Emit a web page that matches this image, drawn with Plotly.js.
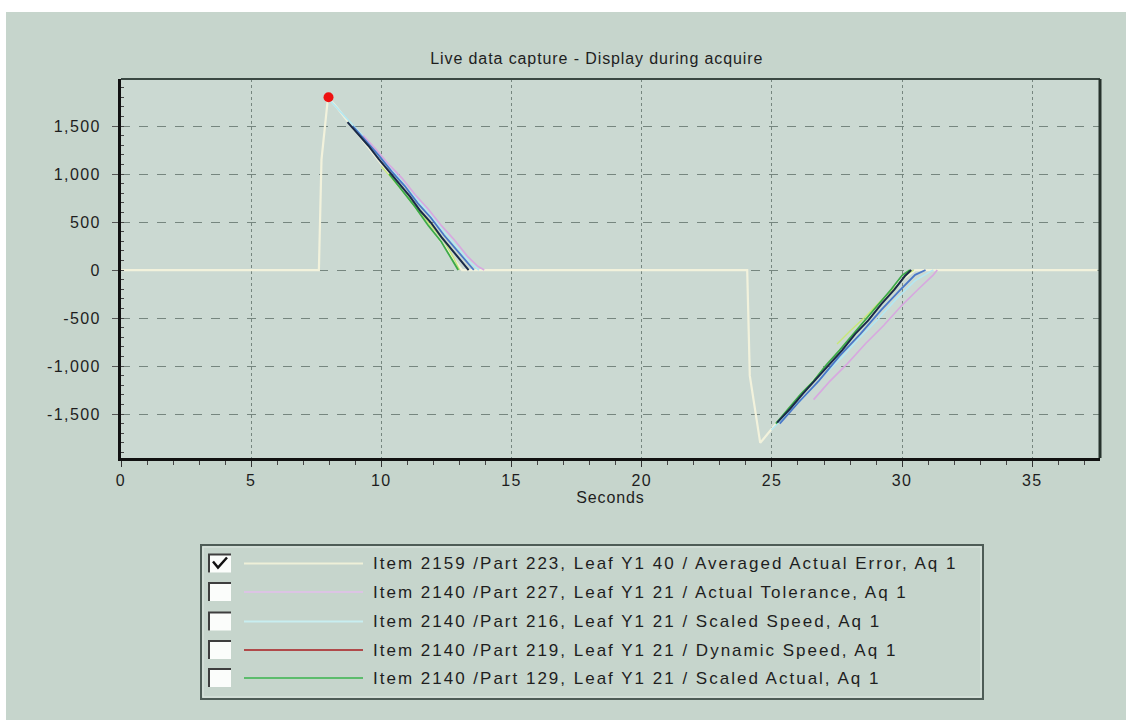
<!DOCTYPE html>
<html>
<head>
<meta charset="utf-8">
<script src="https://cdn.plot.ly/plotly-3.0.1.min.js"></script>
<style>
html,body{margin:0;padding:0;background:#ffffff;width:1126px;height:720px;overflow:hidden;}
#chart{position:absolute;left:6px;top:12px;width:1120px;height:708px;}
text.annotation-text{letter-spacing:2px;}
#chart g.ytick text, #chart g.xtick text{letter-spacing:1.4px;}
#chart .gtitle, #chart .xtitle{letter-spacing:0.9px;}
</style>
</head>
<body>
<div id="chart"></div>
<script>
// ---------------- data ----------------
const chartTitle = "Live data capture - Display during acquire";
const xAxisTitle = "Seconds";
const xTickVals = [0, 5, 10, 15, 20, 25, 30, 35];
const xTickText = ["0", "5", "10", "15", "20", "25", "30", "35"];
const yTickVals = [-1500, -1000, -500, 0, 500, 1000, 1500];
const yTickText = ["-1,500", "-1,000", "-500", "0", "500", "1,000", "1,500"];

// Averaged Actual Error (cream)
const avgErrX = [0, 7.6, 7.7, 7.95, 8.3, 9.0, 10.0, 11.0, 12.0, 12.7, 13.1, 13.5, 24.05, 24.15, 24.55, 25.1, 26.0, 27.0, 28.0, 29.0, 29.8, 30.5, 31.0, 37.5];
const avgErrY = [0, 0, 1150, 1800, 1690, 1450, 1110, 760, 400, 150, 0, 0, 0, -1100, -1800, -1620, -1340, -1030, -710, -390, -140, 0, 0, 0];

// Actual Tolerance (pink)
const tolX = [9.3, 9.8, 10.3, 10.8, 11.3, 11.8, 12.3, 12.8, 13.3, 13.7, 13.95, null, 26.6, 27.2, 27.9, 28.6, 29.3, 30.0, 30.6, 31.2, 31.35];
const tolY = [1400, 1255, 1095, 955, 785, 635, 465, 315, 145, 40, 0, null, -1350, -1165, -975, -765, -575, -365, -205, -50, 0];

// Scaled Speed (cyan)
const sSpeedX = [8.05, 8.6, 9.2, 9.8, 10.4, 11.0, 11.6, 12.2, 12.8, 13.4, 13.75, null, 24.98, 25.6, 26.3, 27.0, 27.7, 28.4, 29.1, 29.8, 30.5, 31.0, 31.2];
const sSpeedY = [1760, 1600, 1425, 1225, 1055, 845, 665, 465, 275, 80, 0, null, -1667, -1495, -1305, -1095, -905, -695, -505, -295, -110, -30, 0];

// Dynamic Speed (dark)
const dSpeedX = [8.7, 9.1, 9.5, 9.9, 10.3, 10.7, 11.1, 11.5, 11.9, 12.3, 12.7, 13.1, 13.35, null, 25.2, 25.7, 26.2, 26.7, 27.2, 27.7, 28.2, 28.7, 29.2, 29.7, 30.1, 30.35];
const dSpeedY = [1540, 1415, 1295, 1155, 1025, 885, 765, 615, 495, 345, 215, 75, 0, null, -1590, -1445, -1285, -1135, -975, -835, -665, -525, -355, -205, -65, 0];

// Scaled Actual (green)
const sActX = [10.3, 10.8, 11.3, 11.8, 12.3, 12.7, 12.95, null, 25.15, 25.6, 26.1, 26.6, 27.1, 27.6, 28.1, 28.6, 29.1, 29.6, 30.0, 30.3];
const sActY = [1000, 825, 655, 465, 295, 115, 0, null, -1600, -1455, -1295, -1155, -985, -835, -675, -525, -355, -195, -55, 0];

// other captured runs shown in the plot
const runBlueX = [8.9, 9.4, 9.9, 10.4, 10.9, 11.4, 11.9, 12.4, 12.9, 13.3, 13.55, null, 25.3, 26.0, 26.8, 27.6, 28.4, 29.2, 29.9, 30.5, 30.9];
const runBlueY = [1500, 1345, 1195, 1025, 875, 695, 545, 365, 205, 70, 0, null, -1600, -1385, -1155, -895, -665, -415, -215, -50, 0];
const runLimeX = [10.0, 10.6, 11.2, 11.8, 12.4, 12.8, 13.0, null, 27.5, 28.0, 28.6, 29.2, 29.8, 30.2, 30.45];
const runLimeY = [1080, 895, 705, 495, 305, 115, 0, null, -770, -635, -485, -315, -165, -40, 0];

const peakX = [7.97];
const peakY = [1800];

const legendLabels = [
  "Item 2159 /Part 223, Leaf Y1 40 / Averaged Actual Error, Aq 1",
  "Item 2140 /Part 227, Leaf Y1 21 / Actual Tolerance, Aq 1",
  "Item 2140 /Part 216, Leaf Y1 21 / Scaled Speed, Aq 1",
  "Item 2140 /Part 219, Leaf Y1 21 / Dynamic Speed, Aq 1",
  "Item 2140 /Part 129, Leaf Y1 21 / Scaled Actual, Aq 1"
];
const legendColors = ["#eef0d8", "#dcc4e4", "#c8eef0", "#b04a4a", "#5cbc6c"];
const legendChecked = [true, false, false, false, false];

// ---------------- traces ----------------
function ln(x, y, color, w) {
  return {x: x, y: y, type: "scatter", mode: "lines", line: {color: color, width: w}, connectgaps: false, hoverinfo: "skip", showlegend: false};
}
const traces = [
  ln(avgErrX, avgErrY, "#f2f2dc", 2.2),
  ln(sSpeedX, sSpeedY, "#b4e8f2", 1.6),
  ln(tolX, tolY, "#d8a8e0", 1.6),
  ln(runBlueX, runBlueY, "#4a78c8", 1.8),
  ln(runLimeX, runLimeY, "#c8e878", 1.4),
  ln(sActX, sActY, "#3caa48", 1.8),
  ln(dSpeedX, dSpeedY, "#1a2a48", 2.0),
  {x: peakX, y: peakY, type: "scatter", mode: "markers", marker: {color: "#ee1111", size: 10}, showlegend: false, hoverinfo: "skip"}
];

// ---------------- layout ----------------
const L = 115, T = 67, PW = 979, PH = 379;
function PX(x) { return (x - 6 - L) / PW; }
function PY(y) { return (12 + T + PH - y) / PH; }

const shapes = [
  {type: "line", xref: "paper", yref: "paper", x0: 0, x1: 1, y0: 1, y1: 1, line: {color: "#3a4842", width: 2}},
  {type: "line", xref: "paper", yref: "paper", x0: 1, x1: 1, y0: 0, y1: 1, line: {color: "#26322c", width: 3}},
  // legend frame
  {type: "rect", xref: "paper", yref: "paper", x0: PX(201), x1: PX(983), y0: PY(545), y1: PY(699), line: {color: "#4e5c56", width: 2}, fillcolor: "rgba(0,0,0,0)"},
  {type: "rect", xref: "paper", yref: "paper", x0: PX(203), x1: PX(981), y0: PY(547), y1: PY(697), line: {color: "#dfe8e2", width: 1}, fillcolor: "rgba(0,0,0,0)"}
];
const annotations = [];
const rowY = [563.5, 592, 621.5, 650, 678];
legendLabels.forEach(function (lab, i) {
  const cy = rowY[i];
  shapes.push({type: "rect", xref: "paper", yref: "paper", x0: PX(208), x1: PX(231), y0: PY(cy - 9), y1: PY(cy + 9), line: {width: 0}, fillcolor: "#fbfdfb"});
  shapes.push({type: "line", xref: "paper", yref: "paper", x0: PX(208), x1: PX(231), y0: PY(cy - 9), y1: PY(cy - 9), line: {color: "#3e3e3e", width: 2}});
  shapes.push({type: "line", xref: "paper", yref: "paper", x0: PX(209), x1: PX(209), y0: PY(cy - 9), y1: PY(cy + 9), line: {color: "#3e3e3e", width: 2}});
  shapes.push({type: "line", xref: "paper", yref: "paper", x0: PX(244), x1: PX(363), y0: PY(cy), y1: PY(cy), line: {color: legendColors[i], width: 2}});
  if (legendChecked[i]) {
    shapes.push({type: "path", xref: "paper", yref: "paper",
      path: "M " + PX(213) + " " + PY(cy - 2) + " L " + PX(218) + " " + PY(cy + 4) + " L " + PX(227) + " " + PY(cy - 6),
      line: {color: "#111111", width: 2.5}});
  }
  annotations.push({xref: "paper", yref: "paper", x: PX(371), y: PY(cy), xanchor: "left", yanchor: "middle", showarrow: false,
    text: lab, font: {family: "Liberation Sans, Arial, sans-serif", size: 17, color: "#1e1e1e"}});
});

const layout = {
  width: 1120, height: 708,
  margin: {l: L, r: 1120 - L - PW, t: T, b: 708 - T - PH, pad: 0},
  paper_bgcolor: "#c6d5cc",
  plot_bgcolor: "#cbd9d2",
  font: {family: "Liberation Sans, Arial, sans-serif", size: 16, color: "#1e1e1e"},
  title: {text: chartTitle, x: 0.486, xref: "paper", y: 1 - 46 / 708, yref: "container", yanchor: "middle",
    font: {family: "Liberation Sans, Arial, sans-serif", size: 16, color: "#1e1e1e"}},
  xaxis: {
    range: [0, 37.6], tickvals: xTickVals, ticktext: xTickText,
    showline: true, linecolor: "#111111", linewidth: 3,
    ticks: "outside", ticklen: 6, tickcolor: "#333333",
    showgrid: true, gridcolor: "#76867f", gridwidth: 1, griddash: "dot",
    zeroline: false,
    minor: {dtick: 1, ticks: "outside", ticklen: 4, tickcolor: "#444444", showgrid: false},
    title: {text: xAxisTitle, standoff: 3, font: {size: 16}},
    tickfont: {size: 16}, fixedrange: true
  },
  yaxis: {
    range: [-1958, 1990], tickvals: yTickVals, ticktext: yTickText,
    showline: true, linecolor: "#111111", linewidth: 3,
    ticks: "outside", ticklen: 6, tickcolor: "#555555",
    showgrid: true, gridcolor: "#76867f", gridwidth: 1, griddash: "dash",
    zeroline: false, ticklabelstandoff: 8,
    minor: {dtick: 100, ticks: "inside", ticklen: 3, tickcolor: "#444444", showgrid: false},
    tickfont: {size: 16}, fixedrange: true
  },
  shapes: shapes,
  annotations: annotations,
  showlegend: false
};

Plotly.newPlot("chart", traces, layout, {displayModeBar: false, staticPlot: true});
</script>
</body>
</html>
